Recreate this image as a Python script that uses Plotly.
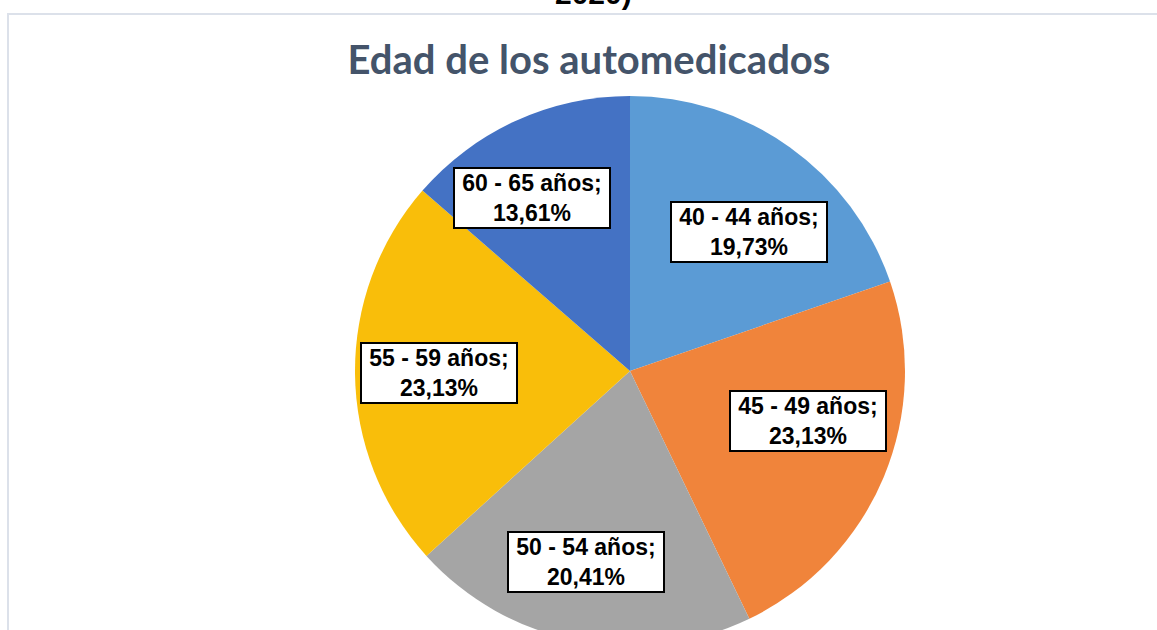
import math
import plotly.graph_objects as go

# datos del grafico
edades = ["40 - 44 años", "45 - 49 años", "50 - 54 años", "55 - 59 años", "60 - 65 años"]
porcentajes = [19.73, 23.13, 20.41, 23.13, 13.61]
colores = ["#5B9BD5", "#F0843B", "#A5A5A5", "#F9BE0A", "#4472C4"]

# ajuste de las etiquetas (giro en grados, fraccion del radio), como en el original
giro_etq = [5, -7, 2, 0, -5]
radio_etq = [0.665, 0.673, 0.713, 0.695, 0.724]

W, H = 1157, 660
cx, cy, R = 630, 371, 275  # centro y radio del pastel en pixeles

fig = go.Figure()
fig.add_trace(go.Pie(labels=edades, values=porcentajes, sort=False,
                     direction="clockwise", rotation=0,
                     marker=dict(colors=colores, line=dict(width=0)),
                     textinfo="none", showlegend=False,
                     domain=dict(x=[(cx - R) / W, (cx + R) / W],
                                 y=[1 - (cy + R) / H, 1 - (cy - R) / H])))

# etiquetas con recuadro, situadas segun el angulo medio de cada porcion
total = sum(porcentajes)
acum = 0
for lab, v, g, f in zip(edades, porcentajes, giro_etq, radio_etq):
    mid = math.radians((acum + v / 2) / total * 360 + g)
    acum += v
    r = f * R
    px = cx + r * math.sin(mid)
    py = cy - r * math.cos(mid)
    txt = "<b>%s;<br>%s%%</b>" % (lab, ("%.2f" % v).replace(".", ","))
    fig.add_annotation(x=px / W, y=1 - py / H, xref="paper", yref="paper",
                       xanchor="center", yanchor="middle",
                       text=txt, showarrow=False, width=152,
                       font=dict(family="Liberation Sans, Arial", size=23, color="black"),
                       bgcolor="white", bordercolor="black", borderwidth=2, borderpad=1)

# titulo cortado de arriba
fig.add_annotation(x=593 / W, y=1 - 12 / H, xref="paper", yref="paper",
                   xanchor="center", yanchor="bottom", text="<b>2020)</b>", showarrow=False,
                   font=dict(family="Liberation Sans, Arial", size=30, color="black"))

# marco del area del grafico
fig.add_shape(type="rect", xref="paper", yref="paper",
              x0=8 / W, x1=1.02, y0=-0.05, y1=1 - 14 / H,
              line=dict(color="#DCE1EA", width=2), fillcolor="rgba(0,0,0,0)")

fig.update_layout(
    width=W, height=H,
    margin=dict(l=0, r=0, t=0, b=0),
    paper_bgcolor="white",
    title=dict(text="<b>Edad de los automedicados</b>", x=589 / W, xanchor="center",
               y=1 - 60 / H, yanchor="middle",
               font=dict(family="Lato", size=40, color="#44546A")),
)

fig.write_html("out.html", config={"displayModeBar": False},
               post_script="document.body.style.margin='0';"
                           "document.body.style.overflow='hidden';"
                           "document.documentElement.style.overflow='hidden';")
